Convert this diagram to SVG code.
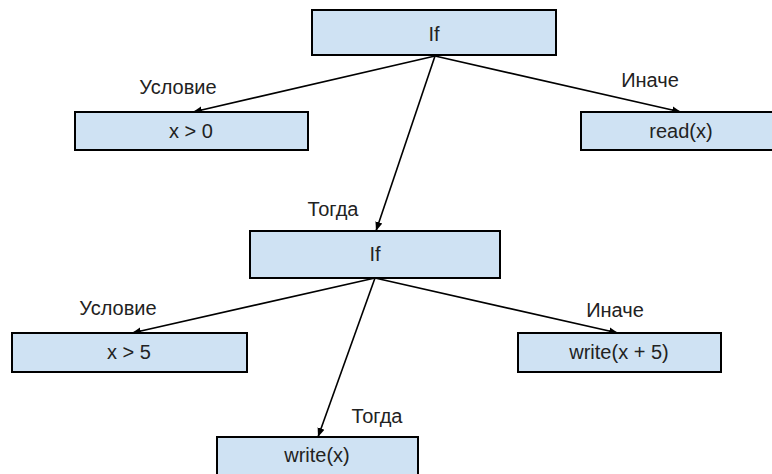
<svg xmlns="http://www.w3.org/2000/svg" width="772" height="474" viewBox="0 0 772 474">
<style>
.box{fill:#cfe2f3;stroke:#000;stroke-width:2}
.t{font-family:"Liberation Sans",Arial,sans-serif;font-size:20px;fill:#222;text-anchor:middle}
.e{stroke:#000;stroke-width:1.6;fill:none;marker-end:url(#ah)}
</style>
<defs>
<marker id="ah" viewBox="0 0 10 10" refX="10" refY="5" markerWidth="9" markerHeight="9" markerUnits="userSpaceOnUse" orient="auto">
<path d="M0,1 L10,5 L0,9 z" fill="#000"/>
</marker>
</defs>
<g id="edges">
<line class="e" x1="435" y1="56" x2="193" y2="112"/>
<line class="e" x1="435" y1="56" x2="681" y2="112"/>
<line class="e" x1="435" y1="56" x2="376" y2="231"/>
<line class="e" x1="375" y1="278" x2="132" y2="333"/>
<line class="e" x1="375" y1="278" x2="618" y2="333"/>
<line class="e" x1="375" y1="278" x2="318" y2="437"/>
<text class="t" x="178" y="94">Условие</text>
<text class="t" x="650" y="87">Иначе</text>
<text class="t" x="333" y="216">Тогда</text>
<text class="t" x="118" y="315">Условие</text>
<text class="t" x="615" y="317">Иначе</text>
<text class="t" x="377" y="423">Тогда</text>
</g>
<g id="if1"><rect class="box" x="312" y="10" width="244" height="45"/><text class="t" x="434" y="41">If</text></g>
<g id="cond1"><rect class="box" x="75" y="112" width="233" height="38"/><text class="t" x="191" y="138">x &gt; 0</text></g>
<g id="else1"><rect class="box" x="581" y="112" width="200" height="38"/><text class="t" x="681" y="138">read(x)</text></g>
<g id="if2"><rect class="box" x="250" y="231" width="250" height="47"/><text class="t" x="375" y="261">If</text></g>
<g id="cond2"><rect class="box" x="12" y="333" width="235" height="39"/><text class="t" x="129" y="359">x &gt; 5</text></g>
<g id="else2"><rect class="box" x="518" y="333" width="203" height="39"/><text class="t" x="619" y="359">write(x + 5)</text></g>
<g id="then2"><rect class="box" x="217" y="437" width="201" height="45"/><text class="t" x="317" y="462">write(x)</text></g>
</svg>
